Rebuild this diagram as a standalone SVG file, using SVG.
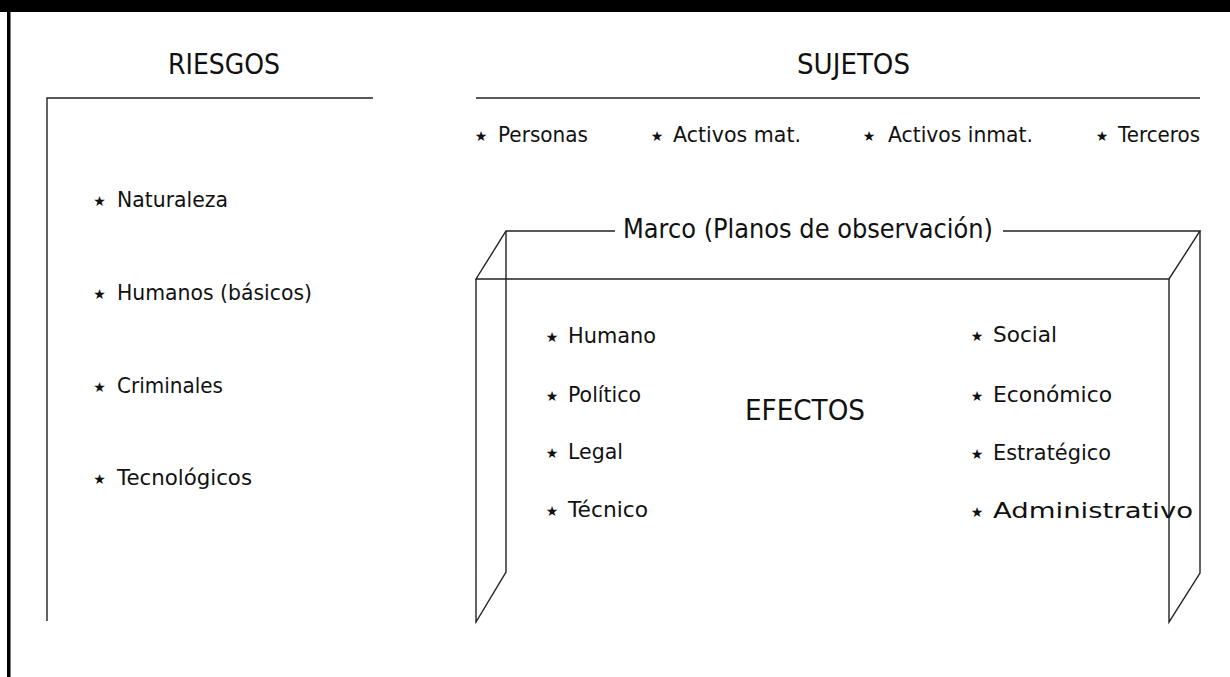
<svg xmlns="http://www.w3.org/2000/svg" width="1230" height="677" viewBox="0 0 1230 677">
<style>
text{font-family:"DejaVu Sans","Liberation Sans",sans-serif;fill:#111;}
.t{font-size:21px;}
.h{font-size:28px;}
.s{font-size:14px;text-anchor:middle;}
.ln{stroke:#222;stroke-width:1.4;fill:none;}
</style>
<rect x="0" y="0" width="1230" height="12" fill="#000"/>
<rect x="7" y="0" width="3.5" height="677" fill="#000"/>

<g id="riesgos">
<text class="h" x="168" y="74" textLength="112" lengthAdjust="spacingAndGlyphs">RIESGOS</text>
<path class="ln" d="M47,621 V98 H373"/>
<text class="s" x="99.5" y="206">★</text>
<text class="t" x="117" y="207" textLength="111" lengthAdjust="spacingAndGlyphs">Naturaleza</text>
<text class="s" x="99.5" y="299">★</text>
<text class="t" x="117" y="300" textLength="195" lengthAdjust="spacingAndGlyphs">Humanos (básicos)</text>
<text class="s" x="99.5" y="392">★</text>
<text class="t" x="117" y="393" textLength="106" lengthAdjust="spacingAndGlyphs">Criminales</text>
<text class="s" x="99.5" y="484">★</text>
<text class="t" x="117" y="485" textLength="135" lengthAdjust="spacingAndGlyphs">Tecnológicos</text>
</g>

<g id="sujetos">
<text class="h" x="797" y="74" textLength="113" lengthAdjust="spacingAndGlyphs">SUJETOS</text>
<path class="ln" d="M476,98 H1200"/>
<text class="s" x="481" y="141">★</text>
<text class="t" x="498" y="142" textLength="90" lengthAdjust="spacingAndGlyphs">Personas</text>
<text class="s" x="657" y="141">★</text>
<text class="t" x="673" y="142" textLength="128" lengthAdjust="spacingAndGlyphs">Activos mat.</text>
<text class="s" x="869" y="141">★</text>
<text class="t" x="888" y="142" textLength="145" lengthAdjust="spacingAndGlyphs">Activos inmat.</text>
<text class="s" x="1102" y="141">★</text>
<text class="t" x="1118" y="142" textLength="82" lengthAdjust="spacingAndGlyphs">Terceros</text>
</g>

<g id="marco">
<path class="ln" d="M615,231 H506 L476,279 H1169 L1200,231 H1003"/>
<path class="ln" d="M506,231 V572 L476,622 V279"/>
<path class="ln" d="M1200,231 V573 L1169,622 V279"/>
<text x="623" y="238" font-size="27" textLength="370" lengthAdjust="spacingAndGlyphs">Marco (Planos de observación)</text>
</g>

<g id="efectos">
<text class="h" x="745" y="420" textLength="120" lengthAdjust="spacingAndGlyphs">EFECTOS</text>
<text class="s" x="552" y="342">★</text>
<text class="t" x="568" y="343" textLength="88" lengthAdjust="spacingAndGlyphs">Humano</text>
<text class="s" x="552" y="401">★</text>
<text class="t" x="568" y="402" textLength="73" lengthAdjust="spacingAndGlyphs">Político</text>
<text class="s" x="552" y="458">★</text>
<text class="t" x="568" y="459" textLength="55" lengthAdjust="spacingAndGlyphs">Legal</text>
<text class="s" x="552" y="516">★</text>
<text class="t" x="568" y="517" textLength="80" lengthAdjust="spacingAndGlyphs">Técnico</text>
<text class="s" x="977" y="341">★</text>
<text class="t" x="993" y="342" textLength="64" lengthAdjust="spacingAndGlyphs">Social</text>
<text class="s" x="977" y="401">★</text>
<text class="t" x="993" y="402" textLength="119" lengthAdjust="spacingAndGlyphs">Económico</text>
<text class="s" x="977" y="459">★</text>
<text class="t" x="993" y="460" textLength="118" lengthAdjust="spacingAndGlyphs">Estratégico</text>
<text class="s" x="977" y="517">★</text>
<text class="t" x="993" y="518" textLength="200" lengthAdjust="spacingAndGlyphs">Administrativo</text>
</g>

<g id="connectors"></g>
</svg>
